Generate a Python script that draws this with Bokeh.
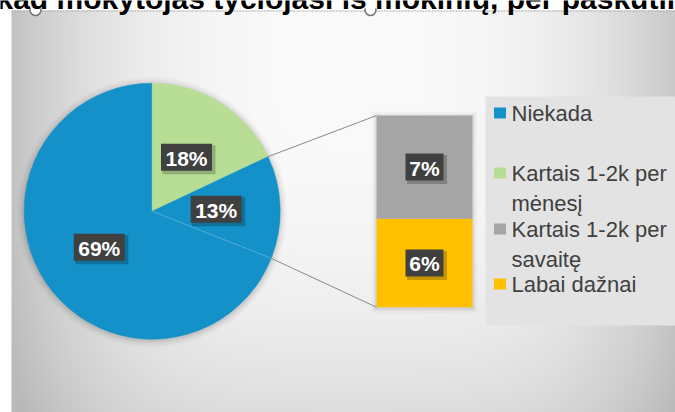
import textwrap
import numpy as np
from bokeh.plotting import figure
from bokeh.models import GlobalInlineStyleSheet
from bokeh.core.properties import value
from bokeh.embed import file_html
from bokeh.resources import INLINE

# ---------------- data ----------------
title_text = "kad mokytojas tyčiojasi iš mokinių, per paskutinį mėnesį"
pie_categories = ["Niekada", "Kartais 1-2k per mėnesį", "Kita"]
pie_values = [69, 18, 13]
bar_categories = ["Labai dažnai", "Kartais 1-2k per savaitę"]   # stacked from bottom
bar_values = [6, 7]
legend_items = ["Niekada", "Kartais 1-2k per mėnesį", "Kartais 1-2k per savaitę", "Labai dažnai"]

# ---------------- style ----------------
BLUE, GREEN, GRAY, YELLOW = "#1391C8", "#B8DE96", "#A5A5A5", "#FFC000"
pie_colors = [BLUE, GREEN, BLUE]
bar_colors = [YELLOW, GRAY]
legend_colors = [BLUE, GREEN, GRAY, YELLOW]
FONT = value("Liberation Sans")

W, H = 675, 412
def Y(sy):
    return H - sy

p = figure(width=W, height=H, x_range=(0, W), y_range=(0, H),
           output_backend="svg", toolbar_location=None, min_border=0)
p.axis.visible = False
p.grid.visible = False
p.outline_line_color = None
p.background_fill_color = "white"
p.border_fill_color = "white"
p.stylesheets = [GlobalInlineStyleSheet(css="html, body {margin:0 !important; padding:0; overflow:hidden;}")]

# ---------------- background gradient (chart area) ----------------
fx0, fy0 = 11, 10
fw, fh = W - fx0, H - fy0
sx = fx0 + np.arange(fw) + 0.5
sy = H - (np.arange(fh) + 0.5)
SX, SY = np.meshgrid(sx, sy)
dx = np.abs(SX - 350) / 340
dy = np.abs(SY - 40) / 470
t = (dx ** 4 + dy ** 4) ** 0.25
v = np.clip(250 - 56 * t ** 2.8, 185, 252).astype(np.uint8)
img = np.empty((fh, fw), dtype=np.uint32)
view = img.view(dtype=np.uint8).reshape((fh, fw, 4))
view[..., 0] = v
view[..., 1] = v
view[..., 2] = v
view[..., 3] = 255
p.image_rgba(image=[img], x=fx0, y=0, dw=fw, dh=fh)

# ---------------- pie ----------------
cx, cy, R = 151.7, Y(210.7), 128
first_angle = 111.6  # degrees, clockwise from 12 o'clock
total = float(sum(pie_values))
starts, ends = [], []
a = np.deg2rad(90 - first_angle)
for val in pie_values:
    starts.append(a)
    a -= 2 * np.pi * val / total
    ends.append(a)

# soft shadow
for k, al in [(7, 0.025), (5, 0.03), (3, 0.04), (1.5, 0.05)]:
    p.circle(x=cx, y=cy - 1, radius=R + k, fill_color="black", fill_alpha=al, line_color=None)
p.wedge(x=cx, y=cy, radius=R, start_angle=starts, end_angle=ends, direction="clock",
        fill_color=pie_colors, line_color=pie_colors, line_width=0.5)
# faint separator on the lower edge of the "other" slice
oth = 2
p.segment(x0=cx, y0=cy, x1=cx + R * np.cos(ends[oth]), y1=cy + R * np.sin(ends[oth]),
          line_color="white", line_alpha=0.3, line_width=0.8)

# ---------------- bar of pie ----------------
bar_left, bar_right = 376, 472
bar_bottom = Y(306.7)
px_per_pct = 191.7 / sum(bar_values)
bottoms, tops = [], []
b = bar_bottom
for val in bar_values:
    bottoms.append(b)
    b += val * px_per_pct
    tops.append(b)
bar_top = tops[-1]
for k, al in [(5, 0.025), (3, 0.035), (1.5, 0.05)]:
    p.quad(left=bar_left - k, right=bar_right + k, bottom=bar_bottom - k - 1, top=bar_top + k - 1,
           fill_color="black", fill_alpha=al, line_color=None)
p.quad(left=bar_left, right=bar_right, bottom=bottoms, top=tops, fill_color=bar_colors, line_color=None)

# connector lines
x_top = cx + R * np.cos(starts[oth]); y_top = cy + R * np.sin(starts[oth])
x_bot = cx + R * np.cos(ends[oth]); y_bot = cy + R * np.sin(ends[oth])
p.segment(x0=[x_top, x_bot], y0=[y_top, y_bot], x1=[bar_left, bar_left], y1=[bar_top, bar_bottom],
          line_color="#8a8a8a", line_width=1)

# ---------------- data labels ----------------
lab_x, lab_y, lab_t = [], [], []
for val, s, e in zip(pie_values, starts, ends):
    m = (s + e) / 2
    lab_x.append(cx + 0.5 * R * np.cos(m)); lab_y.append(cy + 0.5 * R * np.sin(m))
    lab_t.append(f"{val}%")
for val, bo, to in zip(bar_values, bottoms, tops):
    lab_x.append((bar_left + bar_right) / 2); lab_y.append((bo + to) / 2)
    lab_t.append(f"{val}%")
lab_w = [12 + 13 * len(s) for s in lab_t]
p.rect(x=[x + 2.5 for x in lab_x], y=[y - 2.5 for y in lab_y], width=[w + 2 for w in lab_w], height=29,
       fill_color="black", fill_alpha=0.22, line_color=None)
p.rect(x=lab_x, y=lab_y, width=lab_w, height=27, fill_color="#404040", line_color=None)
p.text(x=lab_x, y=[y - 1 for y in lab_y], text=lab_t, text_align="center", text_baseline="middle",
       text_font=FONT, text_font_style="bold", text_font_size="21px", text_color="white")

# ---------------- legend ----------------
p.quad(left=485, right=W + 5, bottom=Y(325), top=Y(96), fill_color="#e3e3e3", line_color=None)
leg_first_baselines = [120, 180, 236, 291]
leg_marker_y = [Y(b_ - 7.5) for b_ in leg_first_baselines]
p.rect(x=499.5, y=leg_marker_y, width=12, height=11, fill_color=legend_colors, line_color=None)
leg_text = [textwrap.fill(s, 16) for s in legend_items]
p.text(x=511, y=[Y(b_ - 20) for b_ in leg_first_baselines], text=leg_text, text_align="left",
       text_baseline="top", text_font=FONT, text_font_size="22px", text_color="#404040",
       text_line_height=1.2)

# ---------------- selection frame / title ----------------
p.segment(x0=fx0, y0=Y(10.5), x1=W, y1=Y(10.5), line_color="#a8a8a8", line_width=1, line_dash="2 1")
p.scatter(x=[35, 370], y=[Y(9.5), Y(9.5)], size=11, marker="circle", fill_color="white",
          line_color="#7a7a7a", line_width=1.6)
p.quad(left=0, right=W, bottom=Y(8), top=H + 5, fill_color="white", line_color=None)
p.text(x=-4, y=Y(-2.5), text=[title_text], text_align="left", text_baseline="alphabetic",
       text_font=FONT, text_font_style="bold", text_font_size="30px", text_color="black")

open("out.html", "w").write(file_html(p, INLINE))
